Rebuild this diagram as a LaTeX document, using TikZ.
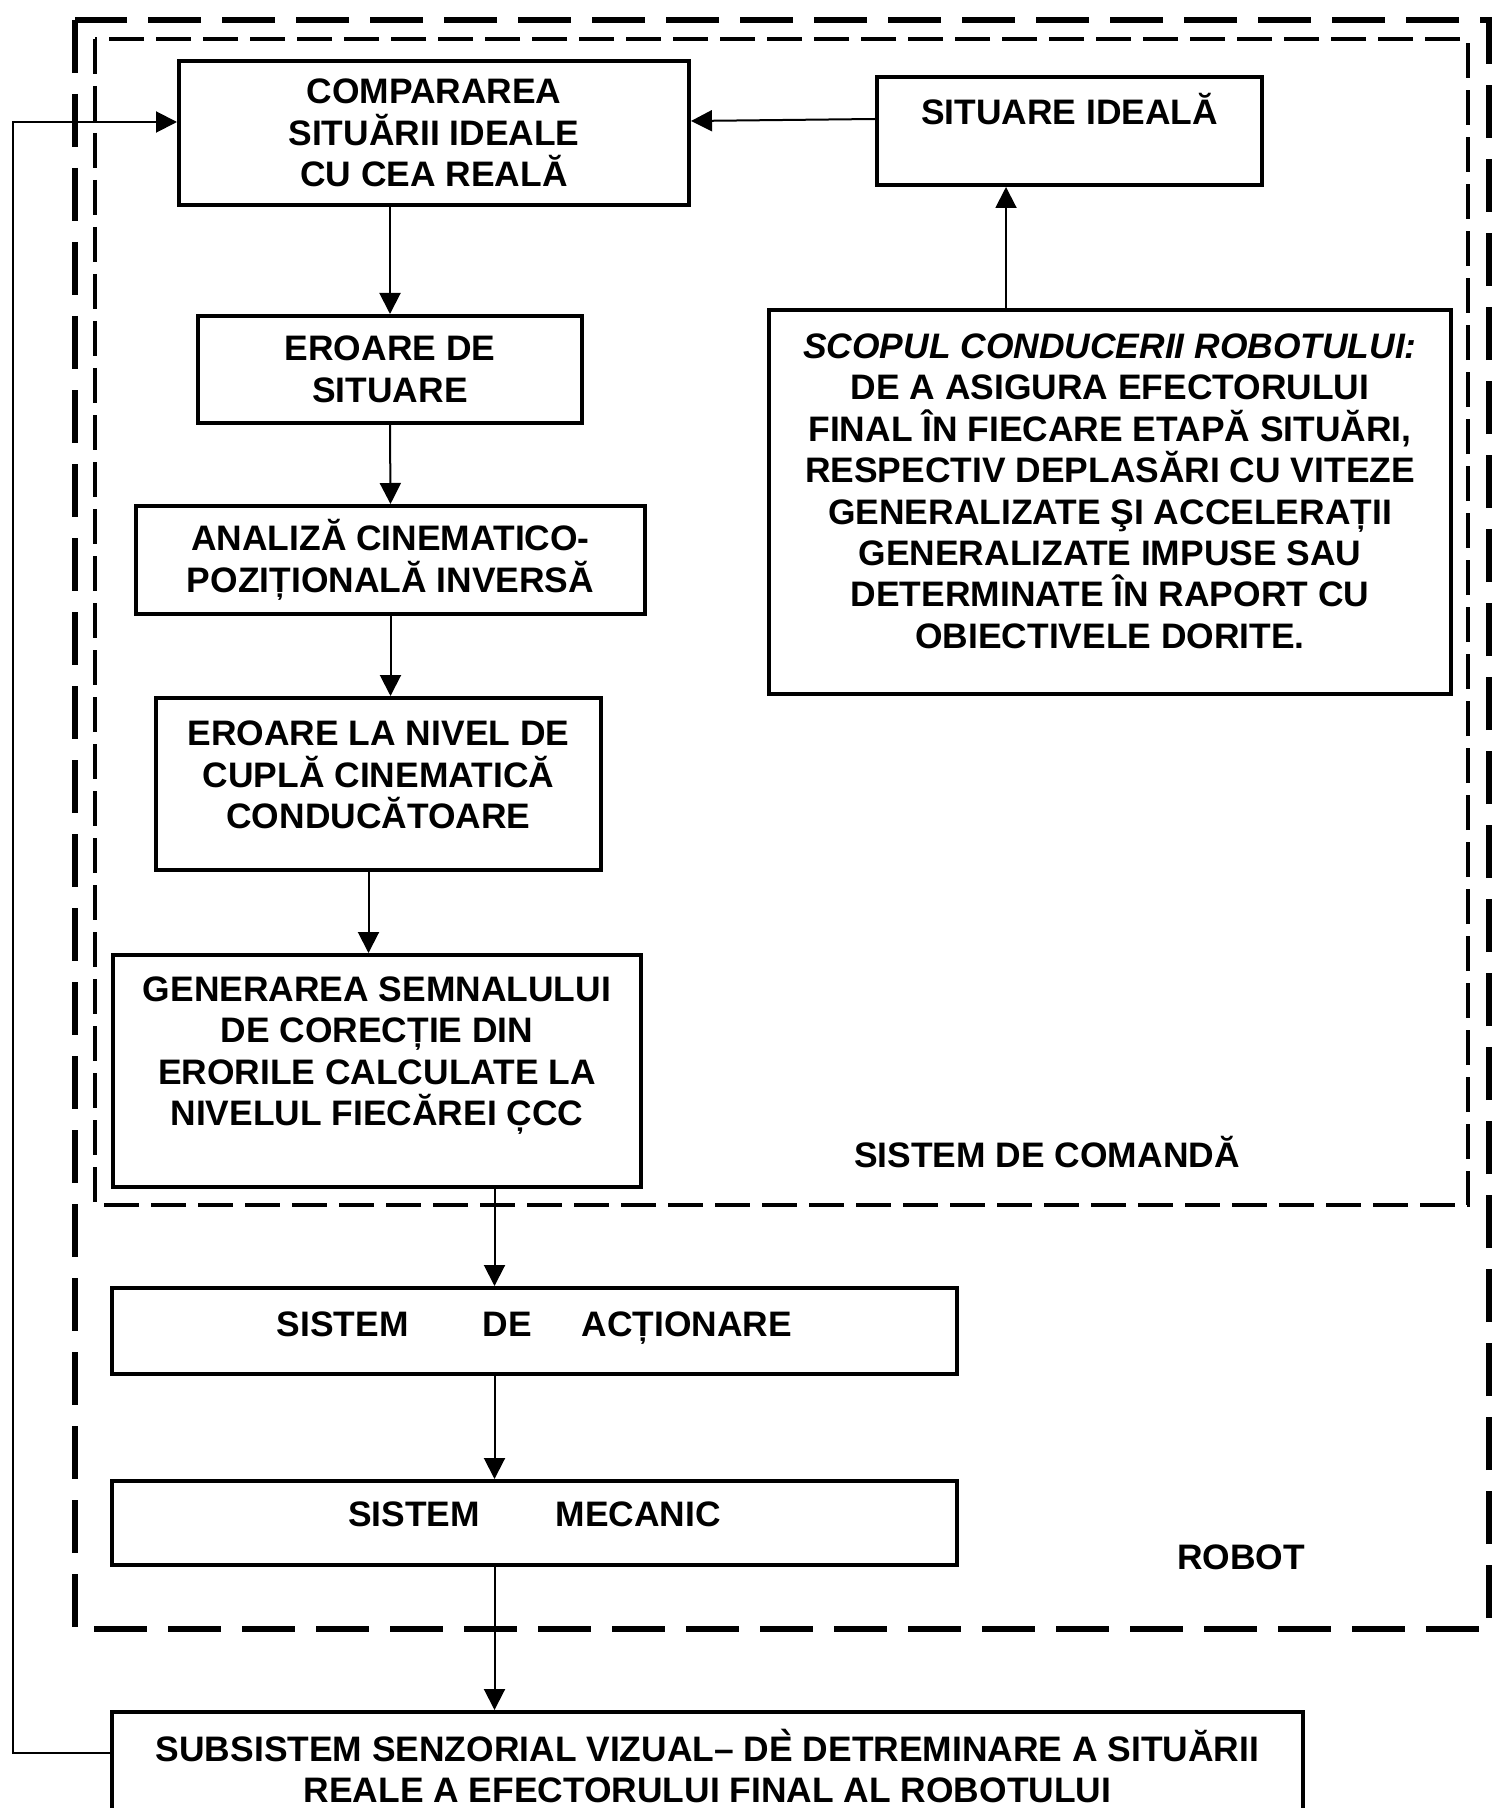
\documentclass[tikz,border=0pt]{standalone}
\usepackage{fontspec}
\setmainfont{Liberation Sans}
\newfontfamily\accfont{DejaVu Sans}
\usetikzlibrary{arrows.meta}

\begin{document}
\begin{tikzpicture}[x=0.5pt,y=-0.5pt,>={Triangle[length=10.5pt,width=10.5pt]},
    font=\fontsize{17.7}{20.7}\selectfont\bfseries,
    block/.style={draw,line width=2pt,align=center,inner sep=0pt},
    link/.style={->,line width=1pt},
    robotframe/.style={line width=3pt,dash pattern=on 26.5pt off 10.5pt},
    cmdframe/.style={line width=2pt,dash pattern=on 17.5pt off 6pt}]

\useasboundingbox (0,0) rectangle (1496,1808);

\draw[robotframe] (75,20) rectangle (1489,1629);
\draw[cmdframe] (95,39) rectangle (1468,1205);

\node[block,minimum width=255pt,minimum height=72pt] (comparare) at (434,133)
    {COMPARAREA\\SITUĂRII IDEALE\\CU CEA REALĂ};
\node[block,minimum width=192.5pt,minimum height=54pt,text height=12.6pt,text depth=19pt]
    (ideal) at (1069.5,131) {SITUARE IDEALĂ};
\node[block,minimum width=341pt,minimum height=192pt,text depth=11pt] (scop) at (1110,502)
    {\textit{SCOPUL CONDUCERII ROBOTULUI:}\\DE A ASIGURA EFECTORULUI\\
     FINAL ÎN FIECARE ETAPĂ SITUĂRI,\\RESPECTIV DEPLASĂRI CU VITEZE\\
     GENERALIZATE ŞI ACCELERAȚII\\GENERALIZATE IMPUSE SAU\\
     DETERMINATE ÎN RAPORT CU\\OBIECTIVELE DORITE.};
\node[block,minimum width=192pt,minimum height=53.5pt] (eroare) at (390,369.5)
    {EROARE DE\\SITUARE};
\node[block,minimum width=254.5pt,minimum height=54pt] (analiza) at (390.5,560)
    {ANALIZĂ CINEMATICO-\\POZIȚIONALĂ INVERSĂ};
\node[block,minimum width=222.5pt,minimum height=86pt,text depth=9pt] (eroarecupla) at (378.5,784)
    {EROARE LA NIVEL DE\\CUPLĂ CINEMATICĂ\\CONDUCĂTOARE};
\node[block,minimum width=264pt,minimum height=116pt,text depth=20pt] (generare) at (377,1071)
    {GENERAREA SEMNALULUI\\DE CORECȚIE DIN\\ERORILE CALCULATE LA\\NIVELUL FIECĂREI C^^^^0326CC};
\node[block,minimum width=422.5pt,minimum height=43pt,text depth=7pt] (actionare) at (534.5,1331)
    {SISTEM\hspace{37pt}DE\hspace{25pt}ACȚIONARE};
\node[block,minimum width=422.5pt,minimum height=42pt,text height=12.6pt,text depth=9pt] (mecanic) at (534.5,1523)
    {SISTEM\hspace{38pt}MECANIC};
\node[block,minimum width=595.5pt,minimum height=54pt] (senzorial) at (707.5,1766)
    {SUBSISTEM SENZORIAL VIZUAL– DE\llap{\raisebox{0.12em}{\accfont ˋ}\hspace{-0.12em}} DETREMINARE A SITUĂRII\\
     REALE A EFECTORULUI FINAL AL ROBOTULUI};

\node (comanda) at (1047,1152) {SISTEM DE COMANDĂ};
\node (robot) at (1241,1557) {ROBOT};

\coordinate (retur) at (13,122);

\draw[link] ([yshift=6pt]ideal.west) -- ([yshift=6pt]comparare.east);
\draw[link] ([xshift=-52pt]scop.north) -- ([xshift=-52pt]scop.north |- ideal.south);
\draw[link] (comparare.south -| eroare.north) -- (eroare.north);
\draw[link] (eroare.south) -- (analiza.north);
\draw[link] (analiza.south) -- (analiza.south |- eroarecupla.north);
\draw[link] ([xshift=-5pt]eroarecupla.south) -- ([xshift=-5pt]eroarecupla.south |- generare.north);
\draw[link] ([xshift=-20pt]actionare.north |- generare.south) -- ([xshift=-20pt]actionare.north);
\draw[link] ([xshift=-20pt]actionare.south) -- ([xshift=-20pt]mecanic.north);
\draw[link] ([xshift=-20pt]mecanic.south) -- ([xshift=-20pt]mecanic.south |- senzorial.north);
\draw[link] ([yshift=6.5pt]senzorial.west) -| (retur) -- (retur -| comparare.west);

\end{tikzpicture}
\end{document}
